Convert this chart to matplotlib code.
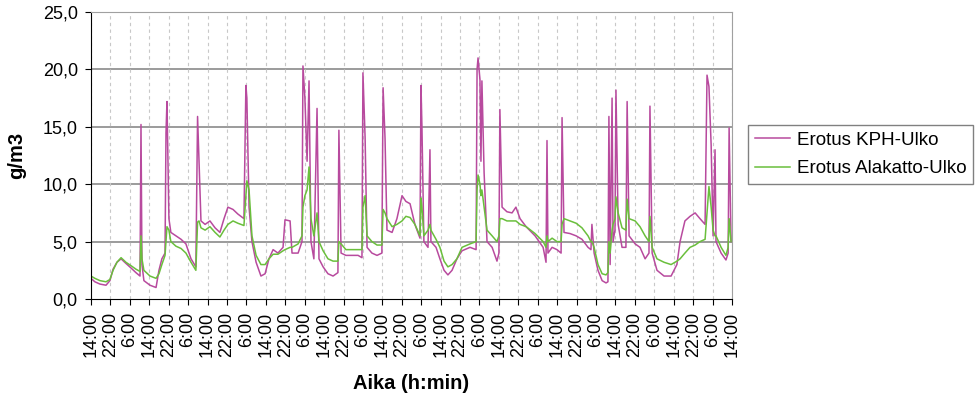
import matplotlib
matplotlib.use("Agg")
import matplotlib.pyplot as plt
from matplotlib.ticker import FuncFormatter

plt.rcParams['font.family'] = ['Liberation Sans', 'DejaVu Sans']

# aika tunteina mittauksen alusta (klo 14:00)
hours = [
    0.0, 1.6, 3.7, 6.2, 7.8, 9.1, 10.7, 12.4, 14.4, 16.5, 18.5, 20.2, 20.6, 21.0, 21.8,
    24.3, 26.8, 28.0, 29.2, 30.5, 30.9, 31.3, 32.1, 32.9, 35.0, 37.1, 39.1, 41.2, 43.2,
    43.9, 44.5, 45.3, 47.0, 49.0, 51.1, 53.1, 54.8, 56.4, 58.5, 60.5, 63.0, 63.8, 64.2,
    65.1, 66.3, 68.0, 70.0, 71.7, 73.3, 75.0, 77.0, 79.1, 79.9, 82.0, 82.8, 85.3, 86.9,
    87.3, 88.1, 89.0, 89.8, 90.6, 91.8, 93.1, 93.9, 95.6, 97.6, 99.7, 101.7, 102.1, 103.0,
    105.0, 107.5, 110.0, 111.6, 112.0, 112.9, 113.7, 115.7, 117.8, 119.8, 120.3, 121.1,
    121.9, 124.0, 126.0, 128.1, 129.7, 131.4, 133.4, 135.5, 135.9, 136.3, 137.1, 138.8,
    139.6, 140.0, 142.1, 143.7, 145.4, 147.0, 148.7, 150.7, 152.8, 156.1, 158.6, 159.0,
    159.4, 160.2, 160.6, 161.0, 161.9, 163.1, 165.2, 167.2, 168.0, 168.4, 169.3, 171.3,
    173.4, 175.0, 176.7, 179.2, 182.9, 186.2, 187.4, 187.8, 188.2, 189.9, 191.9, 193.6,
    194.0, 194.8, 197.3, 199.8, 202.2, 204.7, 205.9, 206.3, 207.2, 208.8, 210.5, 212.1,
    212.9, 213.3, 213.8, 214.6, 215.0, 215.8, 216.2, 217.1, 218.7, 220.3, 220.8, 221.6,
    224.1, 226.1, 228.2, 229.8, 230.2, 231.1, 233.1, 236.0, 238.9, 241.3, 242.6, 244.6,
    246.7, 248.8, 250.8, 252.9, 253.7, 254.5, 255.4, 256.2, 257.0, 257.4, 259.5, 261.5,
    262.4, 262.8, 263.6,
]

# Erotus KPH-Ulko (g/m3)
kph = [
    1.8, 1.5, 1.3, 1.2, 1.6, 2.6, 3.2, 3.5, 3.1, 2.7, 2.3, 2.0, 15.2, 3.0, 1.6,
    1.2, 1.0, 2.5, 3.5, 4.0, 14.5, 17.2, 7.0, 5.8, 5.5, 5.2, 4.8, 3.5, 2.8,
    15.9, 12.0, 6.8, 6.5, 6.8, 6.2, 5.8, 7.0, 8.0, 7.8, 7.4, 7.0, 18.6, 17.5,
    8.0, 5.0, 3.2, 2.0, 2.2, 3.5, 4.3, 4.0, 4.5, 6.9, 6.8, 4.0, 4.0, 5.0,
    20.3, 17.5, 12.0, 19.0, 5.0, 3.5, 16.6, 3.5, 2.8, 2.2, 2.0, 2.3, 14.7, 4.0,
    3.8, 3.8, 3.8, 3.6, 19.7, 14.0, 4.5, 4.0, 3.8, 4.0, 18.4, 14.0,
    6.0, 5.8, 7.0, 9.0, 8.5, 8.3, 6.5, 5.3, 18.6, 15.0, 5.0, 4.5,
    13.0, 5.0, 4.5, 3.5, 2.5, 2.1, 2.5, 3.5, 4.2, 4.5, 4.3, 20.0,
    21.0, 19.1, 12.0, 19.0, 11.0, 5.0, 4.5, 3.3, 4.0, 16.5, 8.0, 7.6,
    7.5, 8.0, 7.0, 6.3, 5.5, 4.5, 3.2, 13.8, 4.0, 4.5, 4.3, 4.0,
    15.8, 5.8, 5.7, 5.5, 5.2, 4.5, 4.3, 6.5, 4.0, 2.5, 1.6, 1.4,
    1.5, 15.9, 3.0, 17.5, 5.0, 6.0, 18.2, 6.5, 4.5, 4.5, 17.2, 5.5,
    4.8, 4.5, 3.5, 4.0, 16.8, 4.0, 2.5, 2.0, 2.0, 3.0, 5.0, 6.8,
    7.2, 7.5, 7.0, 6.5, 19.5, 18.5, 13.4, 5.5, 13.0, 5.0, 4.0, 3.4,
    4.0, 14.9, 5.0,
]

# Erotus Alakatto-Ulko (g/m3)
alakatto = [
    2.0, 1.8, 1.6, 1.5, 1.7, 2.5, 3.2, 3.6, 3.2, 2.9, 2.6, 2.4, 5.5, 3.5, 2.5,
    2.0, 1.8, 2.2, 3.0, 3.8, 5.0, 6.3, 6.0, 5.0, 4.6, 4.4, 4.0, 3.2, 2.5,
    6.7, 6.8, 6.2, 6.0, 6.3, 5.8, 5.4, 6.0, 6.5, 6.8, 6.6, 6.4, 9.0, 10.3,
    9.5, 5.5, 3.8, 3.0, 3.0, 3.5, 3.9, 3.9, 4.2, 4.3, 4.5, 4.5, 4.8, 5.5,
    8.0, 9.0, 9.5, 11.5, 7.0, 5.5, 7.5, 5.0, 4.2, 3.5, 3.3, 3.3, 5.0, 4.8,
    4.3, 4.3, 4.3, 4.3, 8.0, 9.0, 5.5, 5.0, 4.7, 4.7, 7.8, 7.5,
    7.0, 6.3, 6.5, 6.8, 7.2, 7.1, 6.5, 5.5, 8.8, 8.0, 5.5, 6.0,
    6.5, 6.0, 5.2, 4.5, 3.3, 2.8, 3.0, 3.5, 4.5, 4.8, 5.0, 9.5,
    10.8, 10.0, 9.0, 9.5, 8.0, 6.0, 5.5, 5.0, 5.5, 7.0, 7.0, 6.8,
    6.8, 6.8, 6.5, 6.3, 5.7, 5.0, 4.5, 5.5, 5.0, 5.3, 5.0, 5.0,
    6.5, 7.0, 6.8, 6.6, 6.2, 5.5, 5.0, 5.0, 4.5, 3.0, 2.2, 2.1,
    2.3, 5.0, 4.0, 6.0, 6.5, 7.0, 8.9, 7.5, 6.2, 6.0, 8.7, 7.0,
    6.8, 6.3, 5.5, 5.0, 7.2, 4.5, 3.5, 3.2, 3.0, 3.3, 3.5, 4.0,
    4.5, 4.7, 5.0, 5.2, 7.5, 9.8, 8.0, 6.0, 5.5, 5.5, 4.5, 3.8,
    4.5, 7.0, 5.0,
]

tick_hours = list(range(0, 265, 8))
tick_names = ['14:00', '22:00', '6:00']
tick_labels = [tick_names[i % 3] for i in range(len(tick_hours))]

fig = plt.figure(figsize=(9.75, 4.0), dpi=100)
ax = fig.add_axes([0.0933, 0.2525, 0.6575, 0.7175])

ax.plot(hours, kph, color='#b84a9e', lw=1.1, label='Erotus KPH-Ulko')
ax.plot(hours, alakatto, color='#6abf3c', lw=1.1, label='Erotus Alakatto-Ulko')

ax.set_xlim(0, 264)
ax.set_ylim(0, 25)
ax.set_yticks([0, 5, 10, 15, 20, 25])
ax.yaxis.set_major_formatter(FuncFormatter(lambda v, p: f"{v:.1f}".replace('.', ',')))
ax.set_xticks(tick_hours)
ax.set_xticklabels(tick_labels, rotation=90)
ax.tick_params(axis='both', labelsize=13, direction='out', length=4.5, color='black')
ax.tick_params(axis='x', pad=5)
ax.tick_params(axis='y', pad=5)

# ruudukko
for y in [5, 10, 15, 20]:
    ax.axhline(y, color='#808080', lw=1.1, zorder=0)
ax.xaxis.grid(True, linestyle=(0, (3, 3)), color='#c8c8c8', lw=0.8)
ax.set_axisbelow(True)

ax.spines['top'].set_color('#a0a0a0')
ax.spines['right'].set_color('#a0a0a0')
ax.spines['left'].set_color('black')
ax.spines['bottom'].set_color('black')

ax.set_xlabel('Aika (h:min)', fontsize=14.5, fontweight='bold', labelpad=12)
ax.set_ylabel('g/m3', fontsize=14.5, fontweight='bold', labelpad=12)

leg = fig.legend(loc='upper left', bbox_to_anchor=(0.7672, 0.6875), fontsize=13.5,
                 frameon=True, fancybox=False, handlelength=1.9, handletextpad=0.35,
                 borderpad=0.35, borderaxespad=0.0, labelspacing=0.6)
leg.get_frame().set_edgecolor('#606060')
leg.get_frame().set_linewidth(1.0)

plt.savefig('out.png', dpi=100)
